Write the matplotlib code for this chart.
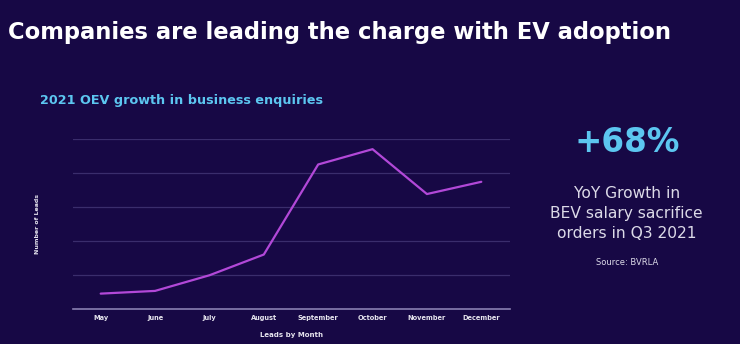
import matplotlib.pyplot as plt

# Data (arbitrary units, y axis has no tick labels)
months = ['May', 'June', 'July', 'August', 'September', 'October', 'November', 'December']
leads = [0.46, 0.54, 1.0, 1.61, 4.26, 4.71, 3.39, 3.75]

BG = '#170845'
LINE = '#b248d8'
GRID = '#3a2d6c'
BLUE = '#5cc6f0'

fig = plt.figure(figsize=(7.4, 3.44), dpi=100, facecolor=BG)
ax = fig.add_axes([0.0986, 0.101, 0.590, 0.494])
ax.set_facecolor(BG)

ax.plot(range(len(months)), leads, color=LINE, lw=1.6, solid_capstyle='round')

ax.set_xlim(-0.51, 7.52)
ax.set_ylim(0, 5)
ax.set_yticks([1, 2, 3, 4, 5])
ax.set_yticklabels([])
ax.grid(axis='y', color=GRID, lw=0.9)
ax.tick_params(axis='y', length=0)
ax.set_axisbelow(True)

ax.set_xticks(range(len(months)))
ax.set_xticklabels(months, fontsize=4.8, fontweight='bold', color='#e6e4ee')
ax.tick_params(axis='x', length=0, pad=4)

for s in ['top', 'right', 'left']:
    ax.spines[s].set_visible(False)
ax.spines['bottom'].set_color('#8a80b2')
ax.spines['bottom'].set_linewidth(1.2)

ax.set_xlabel('Leads by Month', fontsize=5, fontweight='bold', color='#e6e4ee', labelpad=8)
ax.set_ylabel('Number of Leads', fontsize=4.5, fontweight='bold', color='#e6e4ee', labelpad=20)

# Headings
fig.text(0.011, 0.905, 'Companies are leading the charge with EV adoption',
         fontsize=16.3, fontweight='bold', color='white', va='center', ha='left')
fig.text(0.054, 0.708, '2021 OEV growth in business enquiries',
         fontsize=9.2, fontweight='bold', color=BLUE, va='center', ha='left')

# Callout on the right
fig.text(0.847, 0.585, '+68%', fontsize=23.5, fontweight='bold', color=BLUE,
         va='center', ha='center')
fig.text(0.847, 0.38, 'YoY Growth in\nBEV salary sacrifice\norders in Q3 2021',
         fontsize=11.2, color='#dcdae8', va='center', ha='center', linespacing=1.42)
fig.text(0.847, 0.238, 'Source: BVRLA', fontsize=6, color='#dcdae8',
         va='center', ha='center')

fig.savefig('out.png', dpi=100, facecolor=BG)
